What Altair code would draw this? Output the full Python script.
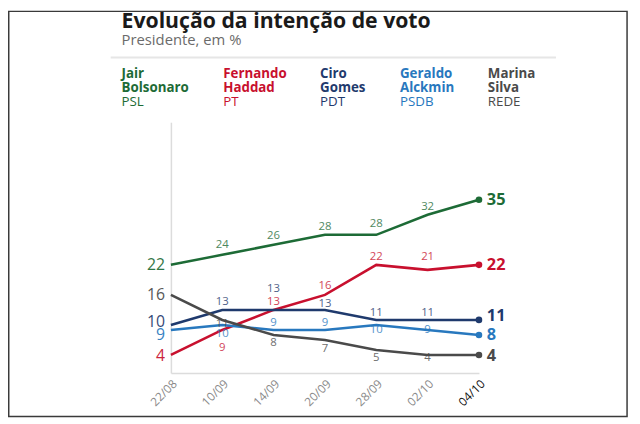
import altair as alt
import pandas as pd

# ---- data ----
TITLE = "Evolução da intenção de voto"
SUBTITLE = "Presidente, em %"
DATES = ["22/08", "10/09", "14/09", "20/09", "28/09", "02/10", "04/10"]
CANDIDATES = ["Jair Bolsonaro", "Fernando Haddad", "Ciro Gomes", "Geraldo Alckmin", "Marina Silva"]
PARTIES = ["PSL", "PT", "PDT", "PSDB", "REDE"]
BOLSONARO = [22, 24, 26, 28, 28, 32, 35]
HADDAD = [4, 9, 13, 16, 22, 21, 22]
CIRO = [10, 13, 13, 13, 11, 11, 11]
ALCKMIN = [9, 10, 9, 9, 10, 9, 8]
MARINA = [16, 11, 8, 7, 5, 4, 4]
SERIES = [BOLSONARO, HADDAD, CIRO, ALCKMIN, MARINA]

# ---- style ----
COLORS = ["#1d6b36", "#c8102e", "#1f3a6d", "#2878be", "#4a4a4a"]
# pixel offsets of the value labels (negative = up)
LABEL_DY = [
    [0, -10, -9, -8, -11, -8, 0],
    [1, 18, -8, -9, -8, -13, 0],
    [-3, -8, -21, -6, -7, -7, -4],
    [5, 9, -7, -7, 5, 0, 0],
    [0, 4, 8, 9, 8, 3, 1],
]
FONT = "Open Sans"
W, H = 312, 254
YMIN, YMAX = 0.4, 50.5
PXU = H / (YMAX - YMIN)
LEGEND_X = [-50, 53, 151, 232, 321]

rows = []
for c, vals, dys in zip(CANDIDATES, SERIES, LABEL_DY):
    for i, (d, v) in enumerate(zip(DATES, vals)):
        rows.append({"date": d, "candidate": c, "value": v, "i": i,
                     "ly": v - dys[i] / PXU})
df = pd.DataFrame(rows)

xenc = alt.X("date:O", sort=DATES, scale=alt.Scale(type="point", padding=0),
             axis=alt.Axis(title=None, ticks=False, grid=False, labelAngle=-45,
                           labelFont=FONT, labelFontSize=12, labelPadding=5,
                           labelColor=alt.expr("datum.value === '04/10' ? '#111111' : '#8a8a8a'"),
                           domainColor="#dcdcdc", domainWidth=1.5))
yscale = alt.Scale(domain=[YMIN, YMAX], nice=False, zero=False)
yenc = alt.Y("value:Q", scale=yscale,
             axis=alt.Axis(title=None, labels=False, ticks=False, grid=False,
                           domainColor="#dcdcdc", domainWidth=1.5))
cenc = alt.Color("candidate:N", scale=alt.Scale(domain=CANDIDATES, range=COLORS), legend=None)

base = alt.Chart(df)
lines = base.mark_line(strokeWidth=2.6).encode(x=xenc, y=yenc, color=cenc,
                                               order=alt.Order("i:Q"))
dots = base.transform_filter("datum.i == 6").mark_circle(size=45, opacity=1).encode(
    x=xenc, y=yenc, color=cenc)

ylab = alt.Y("ly:Q", scale=yscale)
start_lbl = base.transform_filter("datum.i == 0").mark_text(
    align="right", baseline="middle", dx=-6, font=FONT, fontSize=16, opacity=0.92).encode(
    x=xenc, y=ylab, color=cenc, text="value:Q")
mid_lbl = base.transform_filter("datum.i > 0 && datum.i < 6").mark_text(
    align="center", baseline="middle", font=FONT, fontSize=11.5, opacity=0.8).encode(
    x=xenc, y=ylab, color=cenc, text="value:Q")
end_lbl = base.transform_filter("datum.i == 6").mark_text(
    align="left", baseline="middle", dx=8, font=FONT, fontSize=16.5, fontWeight="bold").encode(
    x=xenc, y=ylab, color=cenc, text="value:Q")

layers = [lines, dots, start_lbl, mid_lbl, end_lbl]

# title & subtitle
layers.append(alt.Chart(pd.DataFrame({"t": [TITLE]})).mark_text(
    align="left", baseline="alphabetic", font=FONT, fontSize=21.5, fontWeight="bold", color="#1a1a1a").encode(
    x=alt.value(-50), y=alt.value(-95), text="t:N"))
layers.append(alt.Chart(pd.DataFrame({"t": [SUBTITLE]})).mark_text(
    align="left", baseline="alphabetic", font=FONT, fontSize=15, color="#6b6b6b").encode(
    x=alt.value(-50), y=alt.value(-78), text="t:N"))
# separator
layers.append(alt.Chart(pd.DataFrame({"a": [0]})).mark_rule(color="#e6e6e6", strokeWidth=2).encode(
    x=alt.value(-61), x2=alt.value(390), y=alt.value(-65.5)))
# legend header
for k, (c, p) in enumerate(zip(CANDIDATES, PARTIES)):
    first, last = c.split(" ", 1)
    layers.append(alt.Chart(pd.DataFrame({"t": [first + "\n" + last]})).mark_text(
        align="left", baseline="alphabetic", font=FONT, fontSize=13.5, fontWeight="bold",
        lineBreak="\n", lineHeight=14.5, color=COLORS[k]).encode(
        x=alt.value(LEGEND_X[k]), y=alt.value(-45), text="t:N"))
    layers.append(alt.Chart(pd.DataFrame({"t": [p]})).mark_text(
        align="left", baseline="alphabetic", font=FONT, fontSize=13.5, color=COLORS[k]).encode(
        x=alt.value(LEGEND_X[k]), y=alt.value(-16.5), text="t:N"))
# outer frame
layers.append(alt.Chart(pd.DataFrame({"a": [0]})).mark_rect(
    fill="transparent", stroke="#3a3a3a", strokeWidth=1.5).encode(
    x=alt.value(-164.25), x2=alt.value(462), y=alt.value(-112.25), y2=alt.value(298)))

chart = alt.layer(*layers).properties(
    width=W, height=H,
    autosize=alt.AutoSizeParams(type="none"),
    padding={"left": 165, "top": 113, "right": 155, "bottom": 49},
).configure_view(stroke=None)

chart.save("out.html", embed_options={"renderer": "svg", "actions": False})
